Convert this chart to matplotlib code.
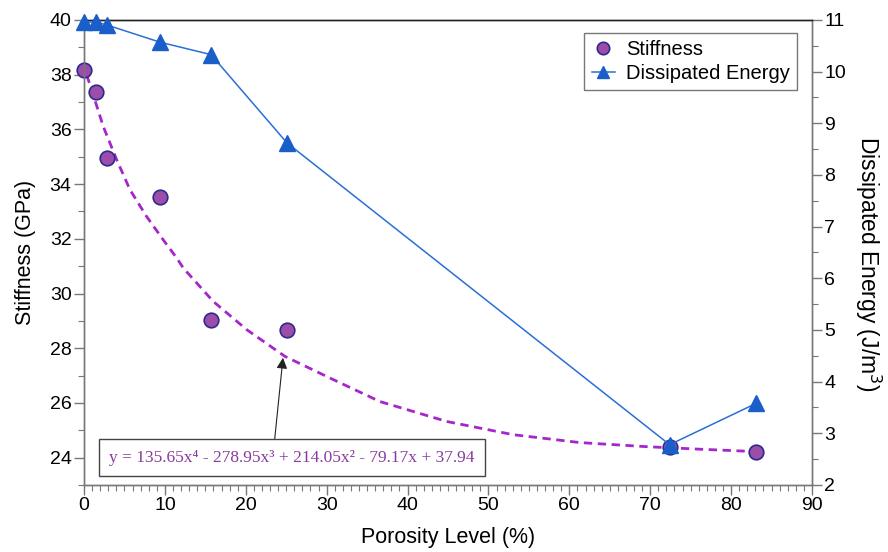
import numpy as np
import matplotlib
matplotlib.use("Agg")
import matplotlib.pyplot as plt
from matplotlib.ticker import MultipleLocator

plt.rcParams['font.family'] = ['Liberation Sans', 'DejaVu Sans']

porosity = [0.0, 1.5, 2.9, 9.4, 15.7, 25.1, 72.4, 83.1]
stiffness = [38.18, 37.36, 34.95, 33.53, 29.04, 28.67, 24.38, 24.22]
energy = [10.96, 10.96, 10.90, 10.57, 10.33, 8.62, 2.78, 3.58]

# polynomial trend line as drawn in the picture
trend_x = [0.33, 0.74, 2.39, 4.04, 5.69, 7.75, 9.80, 11.46, 12.28, 15.98, 20.11, 24.85,
           30.41, 36.59, 44.87, 53.03, 61.32, 69.60, 76.0, 83.1]
trend_y = [37.99, 37.63, 36.10, 34.89, 33.79, 32.81, 31.96, 31.30, 30.93, 29.71, 28.68, 27.70,
           26.91, 26.05, 25.32, 24.84, 24.55, 24.40, 24.31, 24.22]
equation = "y = 135.65x\u2074 - 278.95x\u00b3 + 214.05x\u00b2 - 79.17x + 37.94"

fig = plt.figure(figsize=(8.88, 5.52), dpi=100)
ax = fig.add_axes([0.0946, 0.1214, 0.8198, 0.8424])
ax2 = ax.twinx()

ax.plot(trend_x, trend_y, linestyle=(0, (3, 2)), color='#A526C9', lw=2.0, zorder=2,
        solid_joinstyle='round', dash_joinstyle='round')
ax.plot(porosity, stiffness, 'o', ms=10.5, mfc='#9B4DAA', mec='#2E2A8C', mew=1.2, zorder=4,
        clip_on=False, label='Stiffness')
ax2.plot(porosity, energy, '-^', color='#2A6FD6', lw=1.1, ms=11, mfc='#1A5EC9', mec='#1A5EC9',
         zorder=4, clip_on=False, label='Dissipated Energy')

ax.set_xlim(0, 90)
ax.set_ylim(23, 40)
ax2.set_ylim(2, 11)

ax.xaxis.set_major_locator(MultipleLocator(10))
ax.xaxis.set_minor_locator(MultipleLocator(1))
ax.set_yticks(np.arange(24, 41, 2))
ax.yaxis.set_minor_locator(MultipleLocator(1))
ax2.yaxis.set_major_locator(MultipleLocator(1))
ax2.yaxis.set_minor_locator(MultipleLocator(0.5))

gray = '#777777'
for a in (ax, ax2):
    for s in a.spines.values():
        s.set_color(gray)
        s.set_linewidth(1.0)
    a.spines['top'].set_color('#222222')
ax.tick_params(axis='both', which='major', direction='out', length=7, width=1, color=gray,
               labelsize=14, pad=2)
ax.tick_params(axis='both', which='minor', direction='out', length=4, width=0.8, color=gray)
ax2.tick_params(axis='y', which='major', direction='out', length=7, width=1, color=gray,
                labelsize=14, pad=2)
ax2.tick_params(axis='y', which='minor', direction='out', length=4, width=0.8, color=gray)

ax.set_xlabel('Porosity Level (%)', fontsize=15.5, labelpad=9)
ax.set_ylabel('Stiffness (GPa)', fontsize=15.5, labelpad=10)
ax2.set_ylabel('Dissipated Energy (J/m$^3$)', fontsize=16.5, rotation=270, labelpad=28)
ax2.yaxis.set_label_coords(1.098, 0.475)

h1, l1 = ax.get_legend_handles_labels()
h2, l2 = ax2.get_legend_handles_labels()
leg = ax2.legend(h1 + h2, l1 + l2, loc='upper right', bbox_to_anchor=(0.979, 0.972),
                 borderaxespad=0, fontsize=14.5, frameon=True, fancybox=False,
                 edgecolor='#555555', handlelength=1.15, handletextpad=0.55, borderpad=0.35,
                 labelspacing=0.25, markerscale=0.85)
leg.get_frame().set_linewidth(1.0)

ax2.annotate(equation, xy=(24.6, 27.65), xycoords=ax.transData,
             xytext=(25.7, 24.0), textcoords=ax.transData, ha='center', va='center',
             fontsize=12.5, color='#8A3A9C', family=['Liberation Serif', 'DejaVu Serif'],
             bbox=dict(boxstyle='square,pad=0.6', fc='white', ec='#444444', lw=1.0),
             arrowprops=dict(arrowstyle='-|>', color='#222222', lw=0.8, mutation_scale=16,
                             shrinkA=0, shrinkB=0, relpos=(0.45, 1.0)),
             zorder=6)

fig.savefig('out.png', dpi=100)
